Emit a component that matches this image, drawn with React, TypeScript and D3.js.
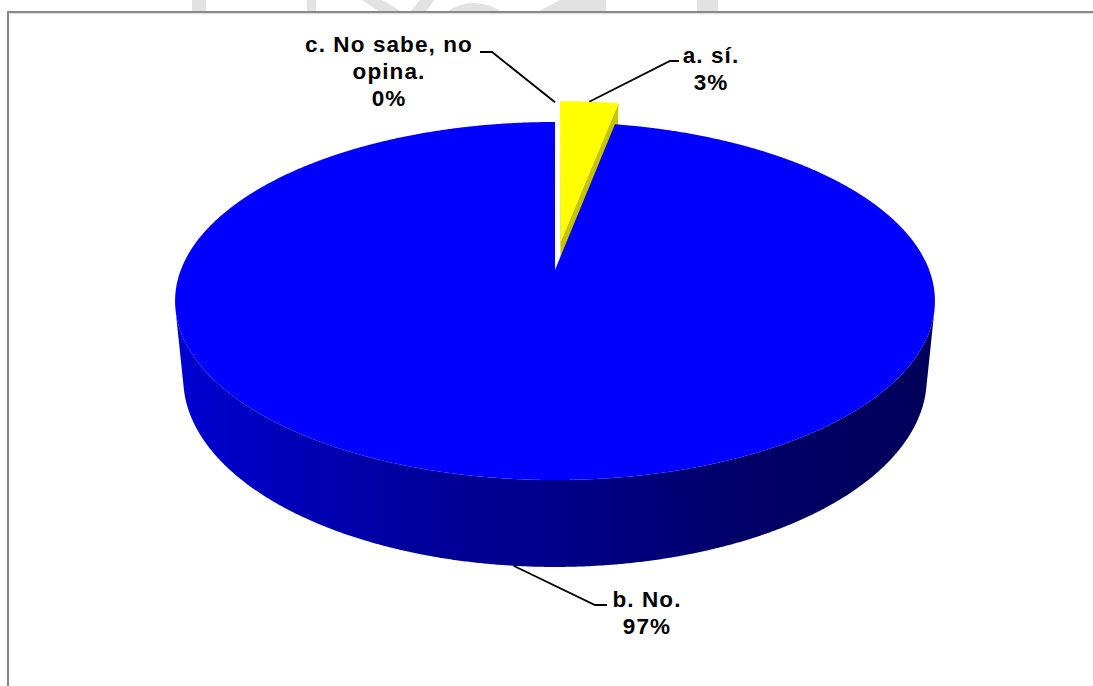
import React from 'react';
import * as d3 from 'd3';

// ---------- data ----------
const categories = ['a. sí.', 'b. No.', 'c. No sabe, no opina.'];
const values = [3, 97, 0];
const labelLines = [['a. sí.', '3%'], ['b. No.', '97%'], ['c. No sabe, no', 'opina.', '0%']];
const explodeAmount = [0.17, 0, 0.16];
const topColors = ['#ffff00', '#0000ff', '#c0c0c0'];
const sideColors = ['#c4c400', 'url(#blueSide)', '#909090'];

// ---------- layout ----------
const W = 1093;
const H = 686;
const PHI = (27.65 * Math.PI) / 180;
const SN = Math.sin(PHI);
const CS = Math.cos(PHI);
const DIST = 5.115;
const FOCAL = 1914;
const CX = 555;
const CY = 270;
const DEPTH = 0.236;
const CAM = [0, DIST * SN, DIST * CS];

// label layout: elbow point, end of leader, text centre x, first baseline
const labelLayout = [
  { elbow: [670, 61], end: [679, 61], tx: 711, ty: 63 },
  { elbow: [595, 605], end: [607, 605], tx: 647, ty: 607 },
  { elbow: [492, 52], end: [480, 52], tx: 389, ty: 52 },
];

function proj(x: number, y: number, z: number): [number, number] {
  const w = -y * SN - z * CS;
  const u = y * CS - z * SN;
  const k = FOCAL / (DIST + w);
  return [CX + x * k, CY - u * k];
}

function polyPath(pts: [number, number][]) {
  const p = d3.path();
  pts.forEach((pt, i) => (i === 0 ? p.moveTo(pt[0], pt[1]) : p.lineTo(pt[0], pt[1])));
  p.closePath();
  return p.toString();
}

const pieGen = d3
  .pie<number>()
  .sort(null)
  .startAngle(0)
  .endAngle(2 * Math.PI)
  .value((d) => d);

export default function App() {
  const arcs = pieGen(values);

  const slices = arcs.map((a, i) => {
    const mid = (a.startAngle + a.endAngle) / 2;
    const e = explodeAmount[i];
    const ox = e * Math.sin(mid);
    const oz = -e * Math.cos(mid);
    const rim = (t: number, y: number) => proj(ox + Math.sin(t), y, oz - Math.cos(t));
    const ctr = (y: number) => proj(ox, y, oz);
    return { a, i, mid, ox, oz, rim, ctr };
  });

  const order = slices
    .filter((s) => s.a.endAngle - s.a.startAngle > 1e-9)
    .sort((p, q) => (p.oz - Math.cos(p.mid)) - (q.oz - Math.cos(q.mid)));

  const shapes: React.ReactNode[] = [];
  order.forEach((s) => {
    const { a, i, ox, oz, rim, ctr } = s;
    const a0 = a.startAngle;
    const a1 = a.endAngle;
    const step = (0.25 * Math.PI) / 180;
    const n = Math.max(2, Math.ceil((a1 - a0) / step));
    const ts = d3.range(n + 1).map((k) => a0 + ((a1 - a0) * k) / n);

    const visible = (t: number) => {
      const nx = Math.sin(t);
      const nz = -Math.cos(t);
      const px = ox + nx;
      const pz = oz + nz;
      return nx * (CAM[0] - px) + nz * (CAM[2] - pz) > 0;
    };
    let run: number[] = [];
    const runs: number[][] = [];
    ts.forEach((t) => {
      if (visible(t)) run.push(t);
      else if (run.length) {
        runs.push(run);
        run = [];
      }
    });
    if (run.length) runs.push(run);
    runs.forEach((r, k) => {
      if (r.length < 2) return;
      const pts = [...r.map((t) => rim(t, 0)), ...r.slice().reverse().map((t) => rim(t, -DEPTH))];
      shapes.push(<path key={`side${i}-${k}`} d={polyPath(pts)} fill={sideColors[i]} />);
    });

    const faceVisible = (ang: number, sign: number) => {
      const nx = sign * Math.cos(ang);
      const nz = sign * Math.sin(ang);
      const px = ox + 0.5 * Math.sin(ang);
      const pz = oz - 0.5 * Math.cos(ang);
      return nx * (CAM[0] - px) + nz * (CAM[2] - pz) > 1e-4;
    };
    [
      [a0, -1],
      [a1, 1],
    ].forEach(([ang, sign], k) => {
      if (!faceVisible(ang, sign)) return;
      const pts = [ctr(0), rim(ang, 0), rim(ang, -DEPTH), ctr(-DEPTH)];
      shapes.push(<path key={`rad${i}-${k}`} d={polyPath(pts)} fill={sideColors[i]} />);
    });

    const topPts = [ctr(0), ...ts.map((t) => rim(t, 0))];
    shapes.push(<path key={`top${i}`} d={polyPath(topPts)} fill={topColors[i]} />);
  });

  const labels = slices.map((s) => {
    const { i, rim } = s;
    const L = labelLayout[i];
    const front = Math.cos(s.mid) < 0;
    const start = front ? rim(s.mid, -DEPTH) : rim(s.mid, 0);
    const linePath = d3.line()([start as [number, number], L.elbow as [number, number], L.end as [number, number]]);
    return (
      <g key={`lab${i}`}>
        <path d={linePath || ''} fill="none" stroke="#000" strokeWidth={1.8} />
        <text
          x={L.tx}
          y={L.ty}
          textAnchor="middle"
          fontFamily="'Liberation Sans', Arial, sans-serif"
          fontWeight="bold"
          fontSize={22.5}
          letterSpacing={1.1}
          fill="#000"
        >
          {labelLines[i].map((ln, k) => (
            <tspan key={k} x={L.tx} dy={k === 0 ? 0 : 27}>
              {ln}
            </tspan>
          ))}
        </text>
        <title>{categories[i]}</title>
      </g>
    );
  });

  return (
    <svg
      width={W}
      height={H}
      viewBox={`0 0 ${W} ${H}`}
      style={{ position: 'absolute', left: 0, top: 0, background: '#fff' }}
    >
      <defs>
        <linearGradient id="blueSide" gradientUnits="userSpaceOnUse" x1={175} y1={0} x2={935} y2={0}>
          <stop offset="0" stopColor="#0000d2" />
          <stop offset="0.3" stopColor="#00009e" />
          <stop offset="0.5" stopColor="#00008a" />
          <stop offset="0.76" stopColor="#000066" />
          <stop offset="1" stopColor="#00005a" />
        </linearGradient>
      </defs>
      <rect x={0} y={0} width={W} height={H} fill="#fff" />
      <g fill="#e2e2e2">
        <rect x={192} y={0} width={14} height={12} />
        <rect x={307} y={0} width={9} height={12} />
        <path d="M362,0 L382,0 L402,12 L380,12 Z" />
        <path d="M420,0 L434,0 L426,12 L410,12 Z" />
        <path d="M446,12 Q474,-6 502,12 Z" />
        <path d="M537,12 L560,0 L606,0 L606,12 Z" />
        <rect x={697} y={0} width={21} height={12} />
      </g>
      <rect x={8} y={12} width={W + 20} height={H + 20} fill="none" stroke="#888" strokeWidth={2} />
      <line x1={10} y1={13.8} x2={W} y2={13.8} stroke="#d8d8d8" strokeWidth={1} />
      {shapes}
      {labels}
    </svg>
  );
}
